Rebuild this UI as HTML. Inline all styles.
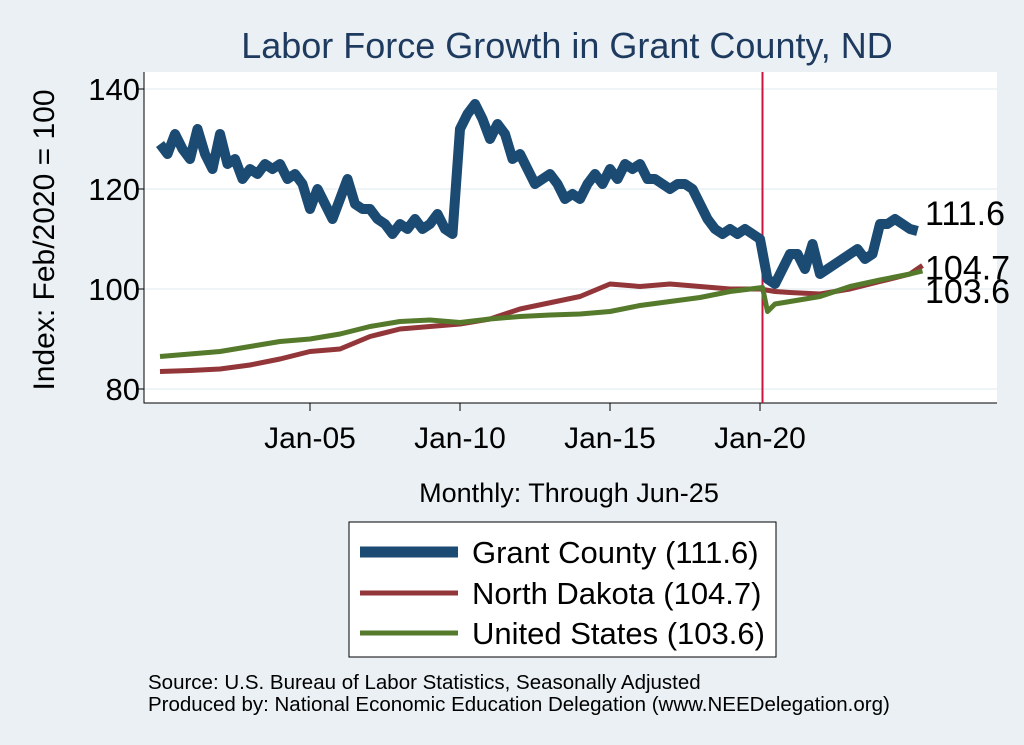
<!DOCTYPE html>
<html><head><meta charset="utf-8"><style>
body{margin:0;background:#eaf0f3;font-family:"Liberation Sans",sans-serif;}
svg{display:block}
</style></head><body>
<svg width="1024" height="745">
<rect x="0" y="0" width="1024" height="745" fill="#eaf0f3"/>
<text x="567" y="58" font-size="36" fill="#1e3a5f" text-anchor="middle">Labor Force Growth in Grant  County, ND</text>
<rect x="144" y="72" width="853" height="331" fill="#fff"/>
<g id="grid"></g>
<g id="axes"></g>
<g id="series"></g>
<text x="54" y="240" font-size="30" text-anchor="middle" transform="rotate(-90 54 240)">Index: Feb/2020 = 100</text>
<text x="569" y="502" font-size="27" text-anchor="middle">Monthly: Through Jun-25</text>
<g>
<rect x="349" y="522" width="427" height="135" fill="#fff" stroke="#000" stroke-width="1"/>
<line x1="360" y1="552" x2="458" y2="552" stroke="#1b4a72" stroke-width="11"/>
<text x="472" y="563" font-size="31">Grant  County (111.6)</text>
<line x1="360" y1="593" x2="458" y2="593" stroke="#933639" stroke-width="5"/>
<text x="472" y="604" font-size="31">North Dakota (104.7)</text>
<line x1="360" y1="633" x2="458" y2="633" stroke="#557a2b" stroke-width="5"/>
<text x="472" y="644" font-size="31">United States (103.6)</text>
</g>
<text x="148" y="689" font-size="20.5">Source: U.S. Bureau of Labor Statistics, Seasonally Adjusted</text>
<text x="148" y="711" font-size="20.5">Produced by: National Economic Education Delegation (www.NEEDelegation.org)</text>
</svg>
<script>
const yTicks=[80,100,120,140];
const xTickLabels=["Jan-05","Jan-10","Jan-15","Jan-20"];
const xTickMonths=[60,120,180,240];
// Grant County quarterly values from Jan-2000
const grant=[129,127,131,128,126,132,127,124,131,125,126,122,124,123,125,124,125,122,123,121,116,120,117,114,118,122,117,116,116,114,113,111,113,112,114,112,113,115,112,111,132,135,137,134,130,133,131,126,127,124,121,122,123,121,118,119,118,121,123,121,124,122,125,124,125,122,122,121,120,121,121,120,117,114,112,111,112,111,112,111,110,102,101,104,107,107,104,109,103,104,105,106,107,108,106,107,113,113,114,113,112,111.6];
const ndMonths=[0,12,24,36,48,60,72,84,96,108,120,132,144,168,180,192,204,216,228,240,246,252,264,276,288,300,305];
const ndVals=[83.5,83.7,84,84.8,86,87.5,88,90.5,92,92.5,93,94,96,98.5,101,100.5,101,100.5,100,100,99.5,99.3,99,100,101.5,103,104.7];
const usMonths=[0,12,24,36,48,60,72,84,96,108,120,132,144,156,168,180,192,204,216,228,241,243,246,252,264,276,288,300,305];
const usVals=[86.5,87,87.5,88.5,89.5,90,91,92.5,93.5,93.8,93.3,94,94.5,94.8,95,95.5,96.7,97.5,98.3,99.5,100.3,95.5,97,97.5,98.5,100.5,101.8,103,103.6];
const endLabels=["111.6","104.7","103.6"];
const xs=m=>160+m*2.5, ys=v=>289-(v-100)*5;
const NS="http://www.w3.org/2000/svg";
function mk(t,a,p){const e=document.createElementNS(NS,t);for(const k in a)e.setAttribute(k,a[k]);p.appendChild(e);return e;}
const grid=document.getElementById('grid'),axes=document.getElementById('axes'),ser=document.getElementById('series');
yTicks.forEach(v=>{
 const g=mk('line',{x1:144,x2:997,y1:ys(v),y2:ys(v),stroke:'#eaf0f3','stroke-width':1.5},grid);
 
 
 const t=mk('line',{x1:137,x2:144,y1:ys(v),y2:ys(v),stroke:'#000'},axes);
 
 
 const l=mk('text',{x:140,y:ys(v)+11,'font-size':31,'text-anchor':'end'},axes);l.textContent=v;
 
 
});
xTickMonths.forEach((m,i)=>{
 const t=mk('line',{x1:xs(m),x2:xs(m),y1:403,y2:411,stroke:'#000'},axes);
 
 
 const l=mk('text',{x:xs(m),y:448,'font-size':30,'text-anchor':'middle'},axes);l.textContent=xTickLabels[i];
 
 
});
const ax=mk('path',{d:'M144 72 V403 H997',fill:'none',stroke:'#000'},axes);


const vl=mk('line',{x1:xs(241),x2:xs(241),y1:72,y2:403,stroke:'#c8163f','stroke-width':2},axes);


function line(ms,vs,col,w,name){
 const d=ms.map((m,i)=>(i?'L':'M')+xs(m).toFixed(1)+' '+ys(vs[i]).toFixed(1)).join(' ');
 const p=mk('path',{d:d,fill:'none',stroke:col,'stroke-width':w,'stroke-linejoin':'round'},ser);
 
 
}
line(ndMonths,ndVals,'#933639',5,'series-north-dakota');
line(usMonths,usVals,'#557a2b',5,'series-united-states');
line(grant.map((v,i)=>Math.min(i*3,305)),grant,'#1b4a72',10,'series-grant-county');
const lastY=[grant[grant.length-1],ndVals[ndVals.length-1],usVals[usVals.length-1]];
const offs=[-18,2,20];
lastY.forEach((v,i)=>{
 const t=mk('text',{x:925,y:ys(v)+12+offs[i],'font-size':34},ser);t.textContent=endLabels[i];
 
 
});
</script>
</body></html>
